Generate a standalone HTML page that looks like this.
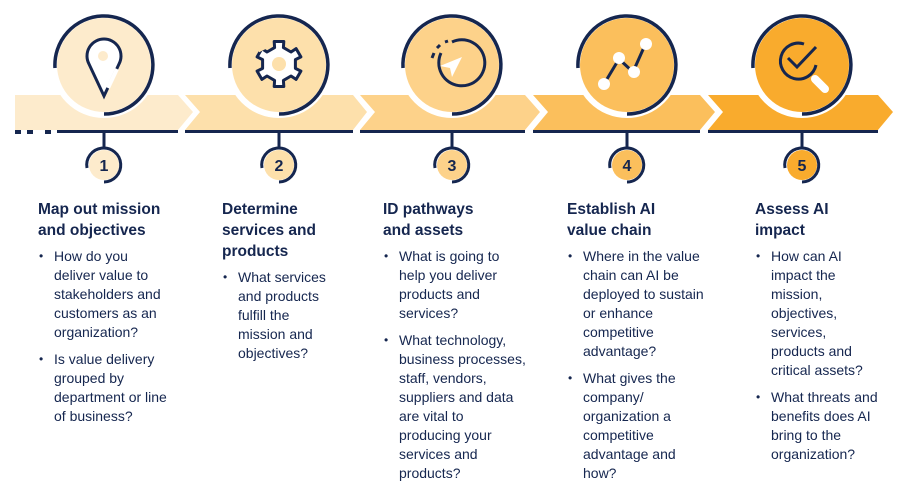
<!DOCTYPE html>
<html><head><meta charset="utf-8"><style>
body{margin:0;width:900px;height:489px;background:#fff;overflow:hidden;position:relative;font-family:"Liberation Sans",Arial,sans-serif;color:#15264f}
.col{position:absolute;top:199px}
.t{font-weight:bold;font-size:15.5px;line-height:21px;margin:0 0 6px 0}
ul{margin:0;padding:0;list-style:none}
li{position:relative;padding-left:16px;font-size:14px;line-height:19px;margin-bottom:8px}
li:before{content:"•";position:absolute;left:1px;top:0;font-size:12px}
</style></head><body>
<svg width="900" height="489" style="position:absolute;left:0;top:0">
<g>
<polygon points="15,95 178,95 193,112 178,130 15,130" fill="#fdebcc"/>
<polygon points="185,95 353,95 367,112 353,130 185,130 200,112" fill="#fde0ab"/>
<polygon points="360,95 525,95 540,112 525,130 360,130 375,112" fill="#fdd28a"/>
<polygon points="533,95 700,95 715,112 700,130 533,130 548,112" fill="#fbbf5c"/>
<polygon points="708,95 878,95 893,112 878,130 708,130 723,112" fill="#f9ab2d"/>
<g fill="#15264f">
<rect x="15" y="130" width="6" height="4"/><rect x="27" y="130" width="6" height="4"/><rect x="45" y="130" width="6" height="4"/>
<rect x="57" y="130" width="121" height="3"/>
<rect x="185" y="130" width="168" height="3"/>
<rect x="360" y="130" width="165" height="3"/>
<rect x="533" y="130" width="167" height="3"/>
<rect x="708" y="130" width="170" height="3"/>
</g>
</g>
<g stroke="#15264f" stroke-width="3.5" fill="none">
<g transform="translate(104,65)"><circle r="53" fill="#fff" stroke="none"/><circle r="47" fill="#fdebcc" stroke="none"/><path d="M-49,3 A49,49 0 1 1 0,49"/></g>
<g transform="translate(279,65)"><circle r="53" fill="#fff" stroke="none"/><circle r="47" fill="#fde0ab" stroke="none"/><path d="M-49,3 A49,49 0 1 1 0,49"/></g>
<g transform="translate(452,65)"><circle r="53" fill="#fff" stroke="none"/><circle r="47" fill="#fdd28a" stroke="none"/><path d="M-49,3 A49,49 0 1 1 0,49"/></g>
<g transform="translate(627,65)"><circle r="53" fill="#fff" stroke="none"/><circle r="47" fill="#fbbf5c" stroke="none"/><path d="M-49,3 A49,49 0 1 1 0,49"/></g>
<g transform="translate(802,65)"><circle r="53" fill="#fff" stroke="none"/><circle r="47" fill="#f9ab2d" stroke="none"/><path d="M-49,3 A49,49 0 1 1 0,49"/></g>
</g>
<g stroke="#15264f" stroke-width="3" fill="none">
<path d="M104,96 L89,64 A17,17 0 1 1 119,64 L104,96 Z" fill="#fff"/>
<path d="M108,88 L117,69" stroke="#fff" stroke-width="4"/>
<circle cx="103" cy="56" r="5" fill="#fdebcc" stroke="none"/>
<polygon points="274.6,47.6 274.2,41.5 283.8,41.5 283.4,47.6 291,52 296.1,48.6 300.9,56.9 295.4,59.6 295.4,68.4 300.9,71.1 296.1,79.4 291,76 283.4,80.4 283.8,86.5 274.2,86.5 274.6,80.4 267,76 261.9,79.4 257.1,71.1 262.6,68.4 262.6,59.6 257.1,56.9 261.9,48.6 267,52" fill="#fff" stroke-linejoin="round"/>
<path d="M258,50 L266,46" stroke="#fde0ab" stroke-width="5"/>
<circle cx="279" cy="64" r="7" fill="#fde0ab" stroke="none"/>
<path d="M441,53 A23,23 0 1 0 452,42" />
<path d="M432,58 L434,53 M437,48 L440,45 M445,42 L448,41" stroke-width="3"/>
<path d="M462,57 L440,66 L450,68 L452,77 Z" fill="#fff" stroke="none"/>
<path d="M604,84 L619,59 L633,72 L645,45" stroke-width="3"/>
<circle cx="604" cy="84" r="6" fill="#fff" stroke="none"/><circle cx="619" cy="58" r="6" fill="#fff" stroke="none"/><circle cx="634" cy="72" r="6" fill="#fff" stroke="none"/><circle cx="646" cy="44" r="6" fill="#fff" stroke="none"/>
<path d="M816,65 A18,18 0 1 1 804,44"/>
<path d="M788,58 L797,67 L816,47"/>
<path d="M815,79 L825,89" stroke="#fff" stroke-width="8" stroke-linecap="round"/>
</g>
<g stroke="#15264f" stroke-width="3" fill="none">
<g transform="translate(104,165)"><line x1="0" y1="-33" x2="0" y2="-17"/><circle r="15" fill="#fdebcc" stroke="none"/><path d="M-17,3 A17,17 0 1 1 0,17"/></g>
<g transform="translate(279,165)"><line x1="0" y1="-33" x2="0" y2="-17"/><circle r="15" fill="#fde0ab" stroke="none"/><path d="M-17,3 A17,17 0 1 1 0,17"/></g>
<g transform="translate(452,165)"><line x1="0" y1="-33" x2="0" y2="-17"/><circle r="15" fill="#fdd28a" stroke="none"/><path d="M-17,3 A17,17 0 1 1 0,17"/></g>
<g transform="translate(627,165)"><line x1="0" y1="-33" x2="0" y2="-17"/><circle r="15" fill="#fbbf5c" stroke="none"/><path d="M-17,3 A17,17 0 1 1 0,17"/></g>
<g transform="translate(802,165)"><line x1="0" y1="-33" x2="0" y2="-17"/><circle r="15" fill="#f9ab2d" stroke="none"/><path d="M-17,3 A17,17 0 1 1 0,17"/></g>
</g>
<g font-family="Liberation Sans, Arial, sans-serif" font-weight="bold" font-size="16" fill="#15264f" text-anchor="middle">
<text x="104" y="171">1</text><text x="279" y="171">2</text><text x="452" y="171">3</text><text x="627" y="171">4</text><text x="802" y="171">5</text>
</g>
</svg>
<div class="col" style="left:38px"><div class="t">Map out mission<br>and objectives</div><ul><li>How do you<br>deliver value to<br>stakeholders and<br>customers as an<br>organization?</li><li>Is value delivery<br>grouped by<br>department or line<br>of business?</li></ul></div>
<div class="col" style="left:222px"><div class="t">Determine<br>services and<br>products</div><ul><li>What services<br>and products<br>fulfill the<br>mission and<br>objectives?</li></ul></div>
<div class="col" style="left:383px"><div class="t">ID pathways<br>and assets</div><ul><li>What is going to<br>help you deliver<br>products and<br>services?</li><li>What technology,<br>business processes,<br>staff, vendors,<br>suppliers and data<br>are vital to<br>producing your<br>services and<br>products?</li></ul></div>
<div class="col" style="left:567px"><div class="t">Establish AI<br>value chain</div><ul><li>Where in the value<br>chain can AI be<br>deployed to sustain<br>or enhance<br>competitive<br>advantage?</li><li>What gives the<br>company/<br>organization a<br>competitive<br>advantage and<br>how?</li></ul></div>
<div class="col" style="left:755px"><div class="t">Assess AI<br>impact</div><ul><li>How can AI<br>impact the<br>mission,<br>objectives,<br>services,<br>products and<br>critical assets?</li><li>What threats and<br>benefits does AI<br>bring to the<br>organization?</li></ul></div>
</body></html>
